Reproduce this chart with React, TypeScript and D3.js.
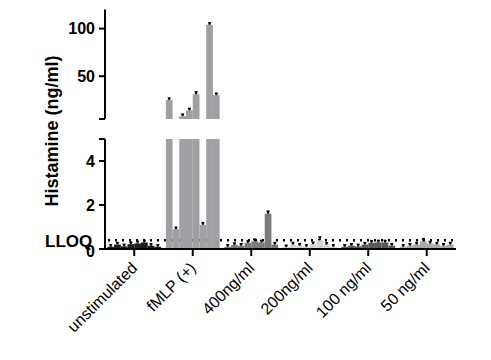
import { useRef, useEffect } from 'react';
import * as d3 from 'd3';

const categories = ['unstimulated', 'fMLP (+)', '400ng/ml', '200ng/ml', '100 ng/ml', '50 ng/ml'];
const donors = ['d1', 'd2', 'd3', 'd4', 'd5', 'd6', 'd7', 'd8'];
const groupFills = ['#1e1e1e', '#a0a0a4', '#7a7a7a', '#d4d4d4', '#5a5a5a', '#a8a8a8'];

const unstimulated = [0.1, 0.2, 0.12, 0.22, 0.25, 0.3, 0.15, 0.1];
const fmlp = [25, 0.9, 8, 14, 31, 1.1, 104, 30];
const c400 = [0.1, 0.18, 0.15, 0.28, 0.35, 0.3, 1.6, 0.2];
const c200 = [0.08, 0.2, 0.15, 0.1, 0.22, 0.4, 0.2, 0.1];
const c100 = [0.1, 0.15, 0.12, 0.2, 0.28, 0.3, 0.3, 0.15];
const c50 = [0.1, 0.15, 0.2, 0.35, 0.25, 0.2, 0.15, 0.2];
const values = [unstimulated, fmlp, c400, c200, c100, c50];

const smallErr = [0.06, 0.08, 0.06, 0.08, 0.1, 0.08, 0.06, 0.06];
const fmlpErr = [2, 0.08, 1.2, 1.5, 2.5, 0.1, 2, 1.5];
const errors = [smallErr, fmlpErr, [0.06, 0.08, 0.06, 0.08, 0.1, 0.08, 0.12, 0.06], [0.06, 0.06, 0.06, 0.06, 0.08, 0.15, 0.06, 0.06], smallErr, [0.06, 0.06, 0.08, 0.12, 0.08, 0.06, 0.06, 0.06]];

const upperTicks = [50, 100];
const lowerTicks = [0, 2, 4];
const lloq = 0.4;

const App = () => {
  const svgRef = useRef(null);

  useEffect(() => {
    const svg = d3.select(svgRef.current);
    svg.selectAll('*').remove();

    const left = 105;
    const right = 456;
    const x0 = 249;

    const x = d3.scaleBand().domain(categories).range([left, right]).paddingInner(0.08).paddingOuter(0.04);
    const xi = d3.scaleBand().domain(donors).range([0, x.bandwidth()]);

    const yLow = d3.scaleLinear().domain([0, 5]).range([x0, 139]);
    const yUp = d3.scaleLinear().domain([5, 120]).range([119, 9.6]);
    const yOf = (v: number) => (v <= 5 ? yLow(v) : yUp(v));

    const font = 'Arial, "Liberation Sans", sans-serif';

    // LLOQ dotted line
    svg.append('line')
      .attr('x1', left + 3).attr('x2', right)
      .attr('y1', yLow(lloq)).attr('y2', yLow(lloq))
      .attr('stroke', 'black').attr('stroke-width', 2.5)
      .attr('stroke-dasharray', '2 5');

    // bars
    categories.forEach((c, gi) => {
      const g = svg.append('g').attr('transform', `translate(${x(c)},0)`);
      values[gi].forEach((v, di) => {
        const bx = xi(donors[di]) as number;
        const bw = xi.bandwidth();
        if (v <= 5) {
          g.append('rect').attr('x', bx).attr('width', bw)
            .attr('y', yLow(v)).attr('height', x0 - yLow(v))
            .attr('fill', groupFills[gi]);
        } else {
          g.append('rect').attr('x', bx).attr('width', bw)
            .attr('y', yLow(5)).attr('height', x0 - yLow(5))
            .attr('fill', groupFills[gi]);
          g.append('rect').attr('x', bx).attr('width', bw)
            .attr('y', yUp(v)).attr('height', yUp(5) - yUp(v))
            .attr('fill', groupFills[gi]);
        }
        const e = errors[gi][di];
        const cx = bx + bw / 2;
        const top = yOf(v + e);
        const ey = Math.min(top, yOf(v) - 2);
        g.append('line').attr('x1', cx).attr('x2', cx)
          .attr('y1', yOf(v)).attr('y2', ey)
          .attr('stroke', 'black').attr('stroke-width', 2);
        g.append('line').attr('x1', cx - 1.5).attr('x2', cx + 1.5)
          .attr('y1', ey).attr('y2', ey)
          .attr('stroke', 'black').attr('stroke-width', 1.5);
      });
    });

    // y axes
    const ax = svg.append('g').attr('stroke', 'black').attr('stroke-width', 2);
    ax.append('line').attr('x1', left).attr('x2', left).attr('y1', yUp(120)).attr('y2', yUp(5));
    ax.append('line').attr('x1', left).attr('x2', left).attr('y1', yLow(5)).attr('y2', x0 + 1);
    [yUp(5), yLow(5)].forEach((yy) => {
      ax.append('line').attr('x1', left - 6).attr('x2', left).attr('y1', yy).attr('y2', yy);
    });
    upperTicks.forEach((t) => {
      ax.append('line').attr('x1', left - 6).attr('x2', left).attr('y1', yUp(t)).attr('y2', yUp(t));
      svg.append('text').attr('x', left - 10).attr('y', yUp(t)).attr('dy', '0.36em')
        .attr('text-anchor', 'end').attr('font-family', font).attr('font-weight', 'bold')
        .attr('font-size', 16).text(t);
    });
    lowerTicks.forEach((t) => {
      ax.append('line').attr('x1', left - 6).attr('x2', left).attr('y1', yLow(t)).attr('y2', yLow(t));
      svg.append('text').attr('x', left - 10).attr('y', yLow(t)).attr('dy', t === 0 ? '0.5em' : '0.36em')
        .attr('text-anchor', 'end').attr('font-family', font).attr('font-weight', 'bold')
        .attr('font-size', 16).text(t);
    });

    // x axis
    ax.append('line').attr('x1', left - 1).attr('x2', right).attr('y1', x0).attr('y2', x0);
    categories.forEach((c) => {
      const cx = (x(c) as number) + x.bandwidth() / 2;
      ax.append('line').attr('x1', cx).attr('x2', cx).attr('y1', x0).attr('y2', x0 + 7);
      svg.append('text')
        .attr('transform', `translate(${cx + 4},${x0 + 20}) rotate(-45)`)
        .attr('text-anchor', 'end').attr('font-family', font)
        .attr('font-size', 16).text(c);
    });

    // LLOQ label
    svg.append('text').attr('x', 45).attr('y', 247)
      .attr('font-family', font).attr('font-weight', 'bold').attr('font-size', 17)
      .text('LLOQ');

    // y title
    svg.append('text')
      .attr('transform', `translate(58,131) rotate(-90)`)
      .attr('text-anchor', 'middle').attr('font-family', font)
      .attr('font-weight', 'bold').attr('font-size', 18)
      .text('Histamine (ng/ml)');
  }, []);

  return (
    <svg ref={svgRef} width={491} height={360}
      style={{ position: 'absolute', left: 0, top: 0, background: 'white' }} />
  );
};

export default App;
